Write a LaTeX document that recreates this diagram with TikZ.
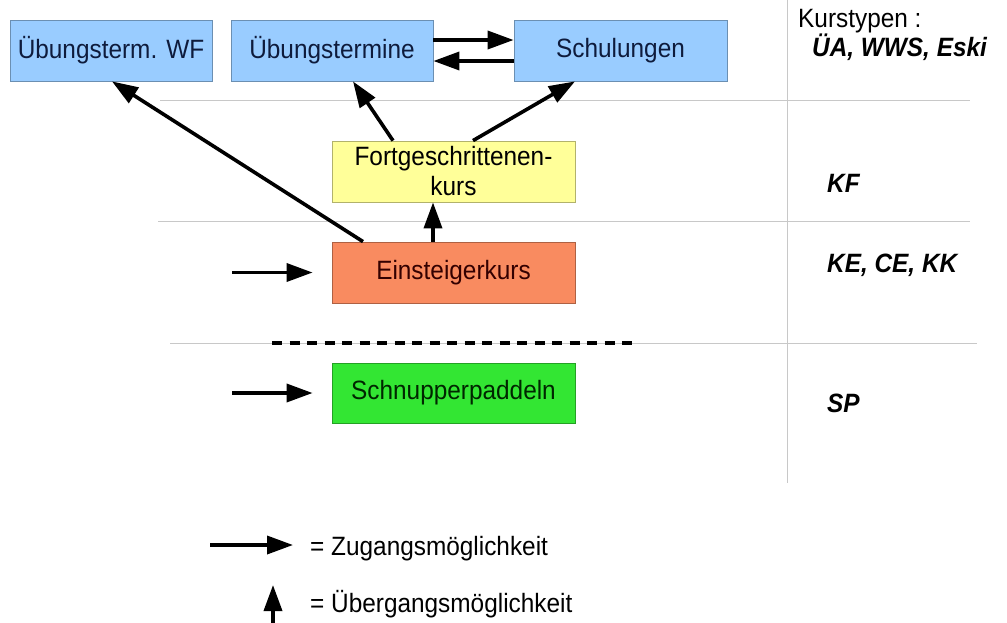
\documentclass[tikz,border=0pt]{standalone}
\usepackage{fontspec}
\setmainfont[FakeStretch=0.92]{Liberation Sans}
\usetikzlibrary{arrows.meta}
\definecolor{boxblue}{HTML}{99CCFF}
\definecolor{boxyellow}{HTML}{FFFF99}
\definecolor{boxorange}{HTML}{F98B60}
\definecolor{boxgreen}{HTML}{33E633}
\definecolor{gridgrey}{HTML}{C8C8C8}
\definecolor{navytext}{HTML}{0E1B3C}
\tikzset{
  course/.style={draw=#1!70!black, line width=0.8pt, fill=#1, minimum height=61pt, inner sep=0pt,
    font=\fontsize{26.5}{30}\selectfont, align=center},
  conn/.style={line width=3.6pt, -{Triangle[length=26pt,width=18pt]}},
  sep/.style={gridgrey, line width=1pt},
  typ/.style={anchor=base west, font=\fontsize{26.5}{30}\selectfont\bfseries\itshape, inner sep=0pt},
  legend/.style={anchor=base west, font=\fontsize{26.5}{30}\selectfont, inner sep=0pt}
}
\begin{document}
\begin{tikzpicture}[x=1pt,y=-1pt]
\useasboundingbox (0,0) rectangle (1007,622);
% separators
\draw[sep] (160,100) -- (970,100);
\draw[sep] (158,221) -- (970,221);
\draw[sep] (170,343) -- (977,343);
\draw[sep] (787,0) -- (787,483);
\draw[line width=3.5pt, dash pattern=on 10pt off 7.5pt] (272,343) -- (632,343);
% boxes
\node[course=boxblue, minimum width=202pt, text=navytext] (WF) at (111,50.5) {Übungsterm. WF};
\node[course=boxblue, minimum width=202pt, text=navytext] (UT) at (332,50.5) {Übungstermine};
\node[course=boxblue, minimum width=213pt, text=navytext] (SC) at (620.5,50.5) {Schulungen};
\node[course=boxyellow, minimum width=243pt, text=black] (FK) at (453.5,171.5) {Fortgeschrittenen-\\kurs};
\node[course=boxorange, minimum width=243pt, text=black!80!red] (EK) at (453.5,272.5) {Einsteigerkurs};
\node[course=boxgreen, minimum width=243pt, minimum height=60pt, text=black!85!green] (SP) at (453.5,393) {Schnupperpaddeln};
% right labels
\node[legend] (KT) at (798,27) {Kurstypen :};
\node[typ] (T1) at (812,56) {ÜA, WWS, Eski};
\node[typ] (T2) at (827,192) {KF};
\node[typ] (T3) at (827,272) {KE, CE, KK};
\node[typ] (T4) at (827,412) {SP};
% connectors
\draw[conn] ([yshift=10.5pt]UT.east) -- ([yshift=10.5pt]SC.west);
\draw[conn] ([yshift=-10.5pt]SC.west) -- ([yshift=-10.5pt]UT.east);
\draw[conn] ([xshift=-90.5pt]EK.north) -- ([xshift=1pt]WF.south);
\draw[conn] ([xshift=-60.5pt]FK.north) -- ([xshift=21pt]UT.south);
\draw[conn] ([xshift=19.5pt]FK.north) -- ([xshift=-45.5pt]SC.south);
\draw[conn] ([xshift=-20.5pt]EK.north) -- ([xshift=-20.5pt]FK.south);
\coordinate (inE) at (232,272.5);
\coordinate (inS) at (232,393);
\draw[conn] (inE) -- ([xshift=-19pt]EK.west);
\draw[conn] (inS) -- ([xshift=-19pt]SP.west);
% legend
\node[legend] (L1) at (310,555) {= Zugangsmöglichkeit};
\node[legend] (L2) at (310,612) {= Übergangsmöglichkeit};
\coordinate (lg1) at (210,545);
\coordinate (lg2a) at (273,625);
\coordinate (lg2b) at (273,585);
\draw[conn] (lg1) -- (293,545);
\draw[conn] (lg2a) -- (lg2b);
\end{tikzpicture}
\end{document}
